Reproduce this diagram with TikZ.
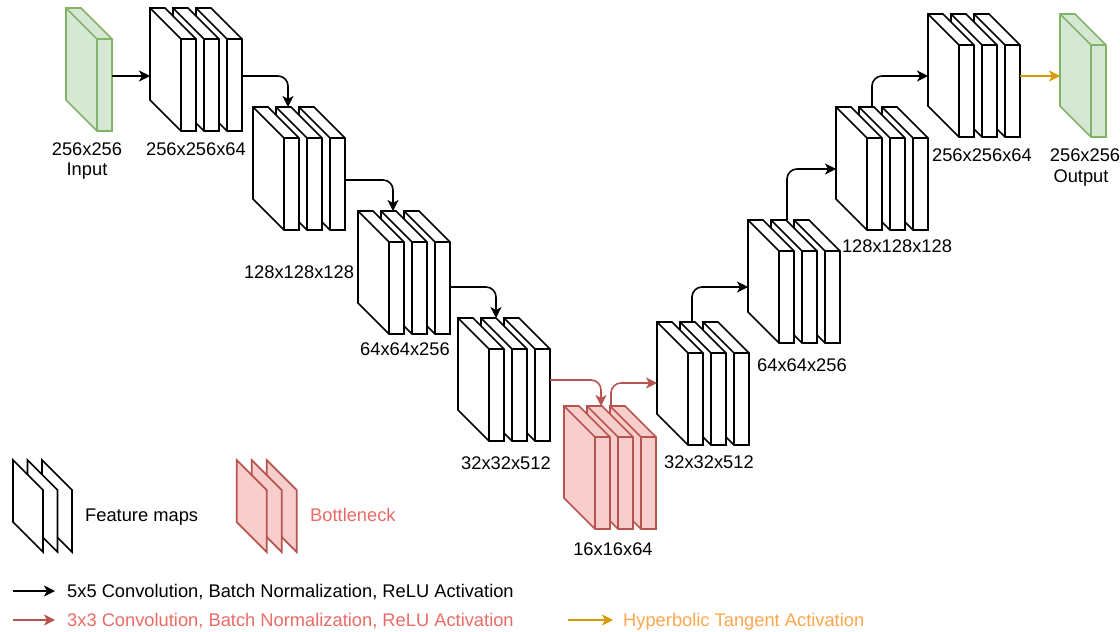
\documentclass[tikz,border=0pt]{standalone}
\usepackage{fontspec}
\setmainfont{Liberation Sans}
\usetikzlibrary{arrows.meta}
\definecolor{greenfill}{HTML}{D5E8D4}
\definecolor{greenline}{HTML}{82B366}
\definecolor{redfill}{HTML}{F8CECC}
\definecolor{redline}{HTML}{B85450}
\definecolor{redtext}{HTML}{EA6B66}
\definecolor{orangeline}{HTML}{D79B00}
\definecolor{orangetext}{HTML}{FFA64D}
\tikzset{
  plain/.style={draw=black, fill=white, line width=1.7pt},
  bneck/.style={draw=redline, fill=redfill, line width=1.7pt},
  gbox/.style={draw=greenline, fill=greenfill, line width=1.7pt},
  conv/.style={draw=black, line width=1.6pt, -{Stealth[length=11pt,width=11pt,inset=3pt]}, rounded corners=10pt},
  convred/.style={conv, draw=redline},
  tanhar/.style={conv, draw=orangeline},
  lbl/.style={font=\fontsize{18.3}{20}\selectfont, inner sep=0pt, anchor=base},
  lgd/.style={font=\fontsize{18.3}{20}\selectfont, inner sep=0pt, anchor=base west},
}
% one slab: top-left corner (#1,#2), style #3
\newcommand\myslab[3]{%
  \filldraw[#3] (#1,#2) -- ++(15,0) -- ++(31,31) -- ++(0,92) -- ++(-15,0) -- ++(-31,-31) -- cycle;
  \draw[#3, fill=none] (#1,#2) -- ++(31,31) -- ++(15,0) ++(-15,0) -- ++(0,92);
}
% three slabs, drawn back to front
\newcommand\myblock[3]{\myslab{#1+46}{#2}{#3}\myslab{#1+23}{#2}{#3}\myslab{#1}{#2}{#3}}
% legend sheet
\newcommand\mysheet[3]{%
  \filldraw[#3] (#1,#2) -- ++(30,30) -- ++(0,62) -- ++(-30,-30) -- cycle;
}
\begin{document}
\begin{tikzpicture}[x=1pt,y=-1pt]
\useasboundingbox (0,0) rectangle (1120,632);

% blocks
\myslab{66}{8}{gbox}
\myblock{150}{8}{plain}
\myblock{253}{107}{plain}
\myblock{358}{211}{plain}
\myblock{458}{318}{plain}
\myblock{564}{406}{bneck}
\myblock{657}{322}{plain}
\myblock{748}{220}{plain}
\myblock{836}{107}{plain}
\myblock{928}{14}{plain}
\myslab{1060}{14}{gbox}

% labels
\node[lbl] (tin1) at (87,155) {256x256};
\node[lbl] (tin2) at (87,175) {Input};
\node[lbl] (t1) at (196,155) {256x256x64};
\node[lbl] (t2) at (299,278) {128x128x128};
\node[lbl] (t3) at (405,355) {64x64x256};
\node[lbl] (t4) at (506,469) {32x32x512};
\node[lbl] (t5) at (613,555) {16x16x64};
\node[lbl] (t6) at (709,468) {32x32x512};
\node[lbl] (t7) at (802,371) {64x64x256};
\node[lbl] (t8) at (897,252) {128x128x128};
\node[lbl] (t9) at (982,161) {256x256x64};
\node[lbl] (tout1) at (1085,161) {256x256};
\node[lbl] (tout2) at (1081,182) {Output};

% connector end points
\coordinate (inO) at (112,76);  \coordinate (b1I) at (150,76);
\coordinate (b1O) at (242,76);  \coordinate (b2I) at (288,107);
\coordinate (b2O) at (345,180); \coordinate (b3I) at (393,211);
\coordinate (b3O) at (450,287); \coordinate (b4I) at (496,318);
\coordinate (b4O) at (550,380); \coordinate (bnI) at (601,406);
\coordinate (bnO) at (611,406); \coordinate (d1I) at (657,383);
\coordinate (d1O) at (692,322); \coordinate (d2I) at (748,287);
\coordinate (d2O) at (787,220); \coordinate (d3I) at (836,169);
\coordinate (d3O) at (872,107); \coordinate (d4I) at (928,76);
\coordinate (d4O) at (1020,76); \coordinate (outI) at (1060,76);

\draw[conv] (inO) -- (b1I);
\draw[conv] (b1O) -| (b2I);
\draw[conv] (b2O) -| (b3I);
\draw[conv] (b3O) -| (b4I);
\draw[convred] (b4O) -| (bnI);
\draw[convred] (bnO) |- (d1I);
\draw[conv] (d1O) |- (d2I);
\draw[conv] (d2O) |- (d3I);
\draw[conv] (d3O) |- (d4I);
\draw[tanhar] (d4O) -- (outI);

% legend
\mysheet{42}{460}{plain}
\mysheet{27.5}{460}{plain}
\mysheet{13}{460}{plain}
\node[lgd] (lfm) at (85,521) {Feature maps};
\mysheet{266.7}{460}{bneck}
\mysheet{251.7}{460}{bneck}
\mysheet{236.7}{460}{bneck}
\node[lgd, text=redtext] (lbn) at (310,521) {Bottleneck};

\coordinate (la1) at (13,591); \coordinate (la1e) at (55,591);
\coordinate (la2) at (13,620); \coordinate (la2e) at (55,620);
\coordinate (la3) at (568,620); \coordinate (la3e) at (613,620);
\draw[conv] (la1) -- (la1e);
\draw[convred] (la2) -- (la2e);
\draw[tanhar] (la3) -- (la3e);
\node[lgd] (lt1) at (67,597.5) {5x5 Convolution, Batch Normalization, ReLU Activation};
\node[lgd, text=redtext] (lt2) at (67,626.5) {3x3 Convolution, Batch Normalization, ReLU Activation};
\node[lgd, text=orangetext] (lt3) at (623,626.5) {Hyperbolic Tangent Activation};
\end{tikzpicture}
\end{document}
